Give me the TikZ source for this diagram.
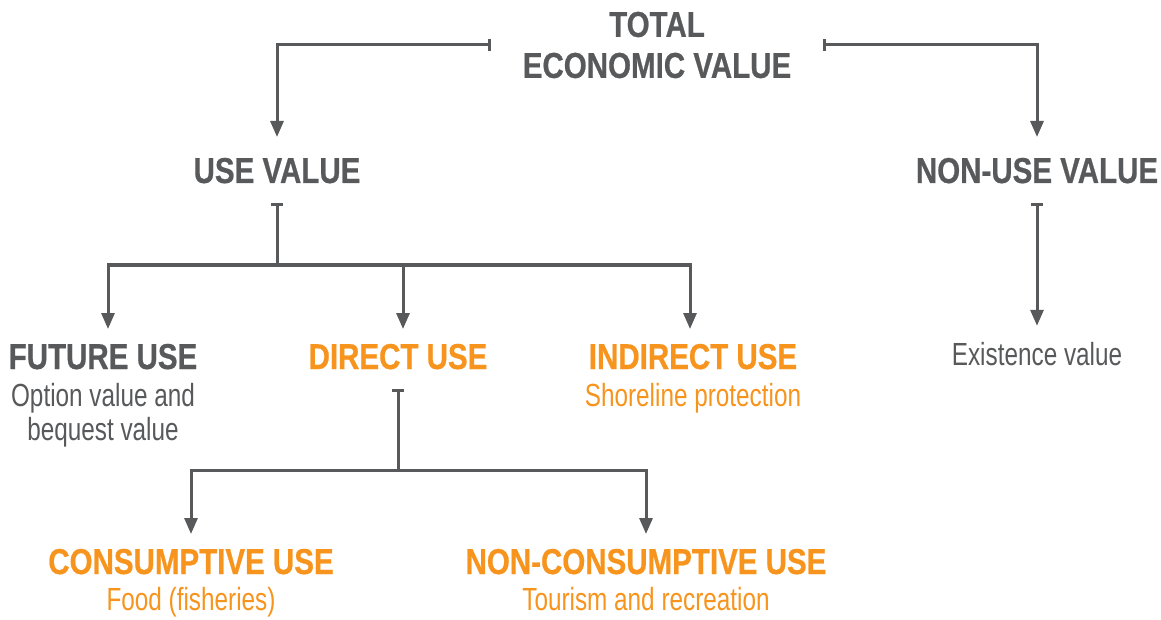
\documentclass[tikz,border=0pt]{standalone}
\usepackage{fontspec}
\newfontfamily\condbold[FakeStretch=0.82,BoldFeatures={FakeBold=0.6}]{Liberation Sans}
\newfontfamily\condlight[FakeStretch=0.76]{Liberation Sans}
\usetikzlibrary{arrows.meta}
\definecolor{tevgray}{HTML}{58595B}
\definecolor{tevorange}{HTML}{F7941D}

\begin{document}
\begin{tikzpicture}[x=1pt,y=-1pt,
  title/.style={font=\condbold\bfseries\fontsize{36}{41}\selectfont, text=tevgray, inner sep=0pt},
  head/.style={title, text height=26pt, text depth=0pt, outer ysep=14pt, anchor=base},
  top/.style={outer ysep=20pt},
  sub/.style={font=\condlight\fontsize{32}{34}\selectfont, text=tevgray,
    inner sep=0pt, outer ysep=16pt, anchor=base, align=center},
  hot/.style={text=tevorange},
  link/.style={draw=tevgray, line width=3pt, {Bar[width=12pt]}-{Triangle[width=13pt,length=16pt]}},
  fork/.style={draw=tevgray, line width=3pt, {Bar[width=12pt]}-},
  branch/.style={draw=tevgray, line width=3pt, -{Triangle[width=13pt,length=16pt]}}]
\useasboundingbox (0,0) rectangle (1161,620);

% value levels
\node[title, align=center, minimum width=332pt] (tev) at (657,45) {TOTAL\\ECONOMIC VALUE};
\node[head, top] (use) at (277,183) {USE VALUE};
\node[head, top] (nonuse) at (1037,183) {NON-USE VALUE};

\node[head] (future) at (103,369) {FUTURE USE};
\node[sub] (futuretxt) at (103,440) {Option value and\\bequest value};
\node[head, hot] (direct) at (398,369) {DIRECT USE};
\node[head, hot] (indirect) at (693,369) {INDIRECT USE};
\node[sub, hot] (indirecttxt) at (693,406) {Shoreline protection};
\node[sub] (exist) at (1037,365) {Existence value};

\node[head, hot] (consum) at (191,574) {CONSUMPTIVE USE};
\node[sub, hot] (consumtxt) at (191,610) {Food (fisheries)};
\node[head, hot] (noncons) at (646,574) {NON-CONSUMPTIVE USE};
\node[sub, hot] (nonconstxt) at (646,610) {Tourism and recreation};

% connectors
\draw[link] (tev.west) -| (use.north);
\draw[link] (tev.east) -| (nonuse.north);
\draw[link] (nonuse.south) -- (exist.north);

\draw[fork] (use.south) -- ++(0,62) coordinate (usejoin);
\draw[branch] (usejoin) -| ([xshift=5pt]future.north);
\draw[branch] (usejoin) -| ([xshift=5pt]direct.north);
\draw[branch] (usejoin) -| ([xshift=-3pt]indirect.north);

\draw[fork, shorten <=6pt] (direct.south) -- ++(0,87) coordinate (directjoin);
\draw[branch] (directjoin) -| (consum.north);
\draw[branch] (directjoin) -| (noncons.north);
\end{tikzpicture}
\end{document}
